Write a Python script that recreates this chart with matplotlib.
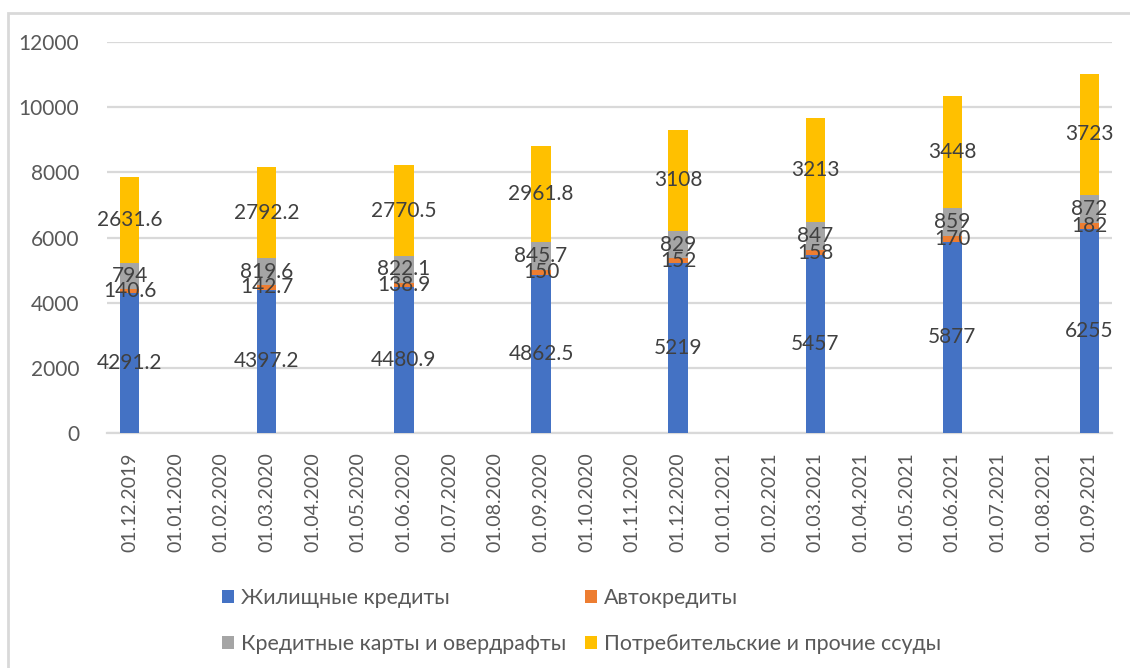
import matplotlib
matplotlib.use("Agg")
import matplotlib.pyplot as plt
from matplotlib.patches import Rectangle
import numpy as np

# Monthly axis labels; bars only on quarterly dates
months = ["01.12.2019", "01.01.2020", "01.02.2020", "01.03.2020", "01.04.2020",
          "01.05.2020", "01.06.2020", "01.07.2020", "01.08.2020", "01.09.2020",
          "01.10.2020", "01.11.2020", "01.12.2020", "01.01.2021", "01.02.2021",
          "01.03.2021", "01.04.2021", "01.05.2021", "01.06.2021", "01.07.2021",
          "01.08.2021", "01.09.2021"]
dates = ["01.12.2019", "01.03.2020", "01.06.2020", "01.09.2020",
         "01.12.2020", "01.03.2021", "01.06.2021", "01.09.2021"]

housing = [4291.2, 4397.2, 4480.9, 4862.5, 5219, 5457, 5877, 6255]
auto = [140.6, 142.7, 138.9, 150, 152, 158, 170, 182]
cards = [794, 819.6, 822.1, 845.7, 829, 847, 859, 872]
consumer = [2631.6, 2792.2, 2770.5, 2961.8, 3108, 3213, 3448, 3723]

series_names = ["Жилищные кредиты", "Автокредиты",
                "Кредитные карты и овердрафты", "Потребительские и прочие ссуды"]
colors = ["#4472C4", "#ED7D31", "#A5A5A5", "#FFC000"]

plt.rcParams["font.family"] = ["Lato", "DejaVu Sans"]

fig = plt.figure(figsize=(11.3, 6.68), dpi=100)
ax = fig.add_axes([0.0947, 0.3518, 0.8894, 0.5852])

x = np.array([months.index(d) for d in dates])
width = 0.42
bottom = np.zeros(len(dates))
handles = []
for vals, name, col in zip([housing, auto, cards, consumer], series_names, colors):
    vals = np.array(vals, dtype=float)
    h = ax.bar(x, vals, width, bottom=bottom, color=col, label=name, zorder=3)
    handles.append(h)
    for xi, b, v in zip(x, bottom, vals):
        ax.text(xi, b + v / 2, f"{v:g}", ha="center", va="center",
                fontsize=15, color="#404040", zorder=4)
    bottom += vals

ax.set_xlim(-0.5, len(months) - 0.5)
ax.set_ylim(0, 12000)
ax.set_yticks(np.arange(0, 12001, 2000))
ax.set_xticks(np.arange(len(months)))
ax.set_xticklabels(months, rotation=90)
ax.tick_params(axis="y", length=0, pad=20, labelsize=15, labelcolor="#595959")
ax.tick_params(axis="x", length=0, pad=14, labelsize=14, labelcolor="#595959")
ax.grid(axis="y", color="#D9D9D9", linewidth=1.6, zorder=0)
for s in ["top", "right", "left"]:
    ax.spines[s].set_visible(False)
ax.spines["bottom"].set_color("#D9D9D9")
ax.spines["bottom"].set_linewidth(1.6)

# Row-wise legend order for a two-column layout
order = [0, 2, 1, 3]
fig.legend(handles=[handles[i] for i in order],
           labels=[series_names[i] for i in order], loc="upper left",
           bbox_to_anchor=(222 / 1130, (668 - 588) / 668), ncol=2,
           frameon=False, borderpad=0, borderaxespad=0,
           fontsize=15.4, labelcolor="#595959", handlelength=0.56,
           handleheight=0.56, handletextpad=0.34, columnspacing=0.85,
           labelspacing=1.2)

# Chart frame
fig.patches.append(Rectangle((8 / 1130, -0.1), 1.2, (668 - 13) / 668 + 0.1,
                             transform=fig.transFigure, fill=False,
                             edgecolor="#D9D9D9", linewidth=2))

fig.savefig("out.png", dpi=100)
